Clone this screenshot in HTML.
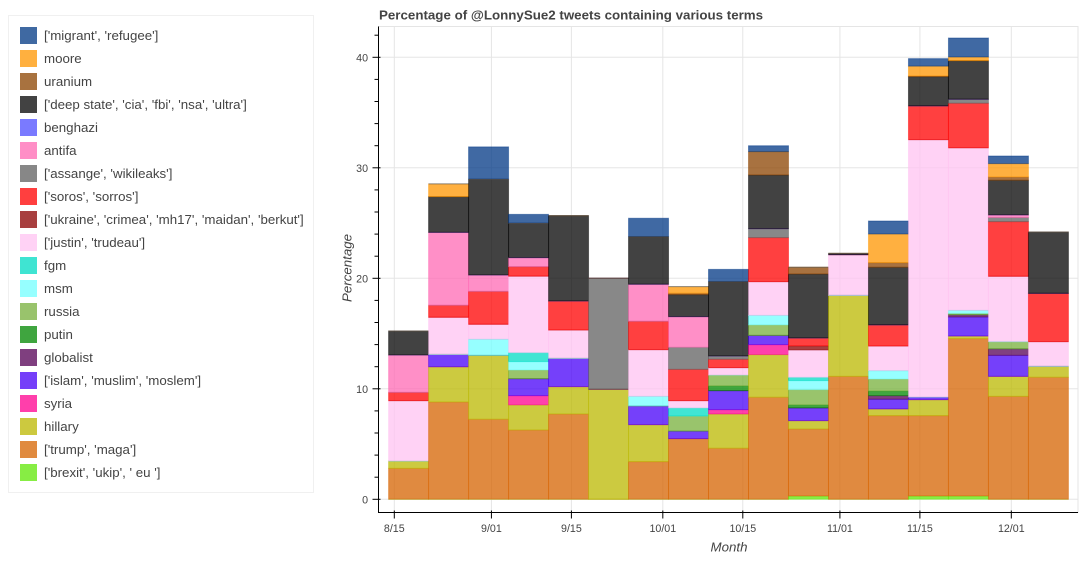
<!DOCTYPE html>
<html lang="en">
<head>
<meta charset="utf-8">
<title>Percentage of @LonnySue2 tweets containing various terms</title>
<style>
html,body{margin:0;padding:0;width:1083px;height:562px;background:#fff;overflow:hidden;font-family:"Liberation Sans",sans-serif;color:#444}
#legend{position:absolute;left:8px;top:15px;width:304px;height:476px;border:1px solid #f0f0f0;box-sizing:content-box}
.row{position:absolute;left:11px;height:17px;white-space:nowrap;font-size:13.3px;line-height:17px}
.sw{position:absolute;left:0;top:0;width:17px;height:17px;opacity:.75;box-sizing:border-box;border:1px solid}
.lb{position:absolute;left:24px;top:0}
#chart{position:absolute;left:0;top:0}
</style>
</head>
<body>
<div id="legend">
<div class="row" style="top:11px"><span class="sw" style="background:#003784;border-color:#003784"></span><span class="lb">['migrant', 'refugee']</span></div>
<div class="row" style="top:34px"><span class="sw" style="background:#ff9600;border-color:#ff9600"></span><span class="lb">moore</span></div>
<div class="row" style="top:57px"><span class="sw" style="background:#8b4300;border-color:#8b4300"></span><span class="lb">uranium</span></div>
<div class="row" style="top:80px"><span class="sw" style="background:#030303;border-color:#030303"></span><span class="lb">['deep state', 'cia', 'fbi', 'nsa', 'ultra']</span></div>
<div class="row" style="top:103px"><span class="sw" style="background:#4e4eff;border-color:#4e4eff"></span><span class="lb">benghazi</span></div>
<div class="row" style="top:126px"><span class="sw" style="background:#ff69b4;border-color:#ff69b4"></span><span class="lb">antifa</span></div>
<div class="row" style="top:149px"><span class="sw" style="background:#606060;border-color:#606060"></span><span class="lb">['assange', 'wikileaks']</span></div>
<div class="row" style="top:172px"><span class="sw" style="background:#ff0000;border-color:#ff0000"></span><span class="lb">['soros', 'sorros']</span></div>
<div class="row" style="top:195px"><span class="sw" style="background:#8b0000;border-color:#8b0000"></span><span class="lb">['ukraine', 'crimea', 'mh17', 'maidan', 'berkut']</span></div>
<div class="row" style="top:218px"><span class="sw" style="background:#ffc3f2;border-color:#ffc3f2"></span><span class="lb">['justin', 'trudeau']</span></div>
<div class="row" style="top:241px"><span class="sw" style="background:#00dcc4;border-color:#00dcc4"></span><span class="lb">fgm</span></div>
<div class="row" style="top:264px"><span class="sw" style="background:#73ffff;border-color:#73ffff"></span><span class="lb">msm</span></div>
<div class="row" style="top:287px"><span class="sw" style="background:#77b03b;border-color:#77b03b"></span><span class="lb">russia</span></div>
<div class="row" style="top:310px"><span class="sw" style="background:#008800;border-color:#008800"></span><span class="lb">putin</span></div>
<div class="row" style="top:333px"><span class="sw" style="background:#550055;border-color:#550055"></span><span class="lb">globalist</span></div>
<div class="row" style="top:356px"><span class="sw" style="background:#4700f8;border-color:#4700f8"></span><span class="lb">['islam', 'muslim', 'moslem']</span></div>
<div class="row" style="top:379px"><span class="sw" style="background:#ff0090;border-color:#ff0090"></span><span class="lb">syria</span></div>
<div class="row" style="top:402px"><span class="sw" style="background:#bbb800;border-color:#bbb800"></span><span class="lb">hillary</span></div>
<div class="row" style="top:425px"><span class="sw" style="background:#d66300;border-color:#d66300"></span><span class="lb">['trump', 'maga']</span></div>
<div class="row" style="top:448px"><span class="sw" style="background:#60e806;border-color:#60e806"></span><span class="lb">['brexit', 'ukip', ' eu ']</span></div>
</div>

<svg id="chart" width="1083" height="562" viewBox="0 0 1083 562" xmlns="http://www.w3.org/2000/svg">
  <text x="379" y="19.5" font-family="'Liberation Sans',sans-serif" font-size="13.33px" font-weight="700" fill="#444">Percentage of @LonnySue2 tweets containing various terms</text>
  <text x="729" y="551.5" text-anchor="middle" font-family="'Liberation Sans',sans-serif" font-size="13.3px" font-style="italic" fill="#444">Month</text>
  <text transform="translate(351.5,268) rotate(-90)" text-anchor="middle" font-family="'Liberation Sans',sans-serif" font-size="13.3px" font-style="italic" fill="#444">Percentage</text>
  <g id="grid"></g>
  <g id="bars"></g>
  <g id="axes"></g>
</svg>

<script>
// Week-start dates, one per stacked bar
const weeks = ['2017-08-14','2017-08-21','2017-08-28','2017-09-04','2017-09-11','2017-09-18','2017-09-25','2017-10-02','2017-10-09','2017-10-16','2017-10-23','2017-10-30','2017-11-06','2017-11-13','2017-11-20','2017-11-27','2017-12-04'];

// Percent of tweets per week, per term
const brexit   = [0,0,0,0,0,0,0,0,0,0,.3,0,0,.3,.3,0,0];
const trump    = [2.8,8.81,7.24,6.27,7.72,0,3.41,5.49,4.62,9.23,6.06,11.13,7.57,7.27,14.24,9.32,11.04];
const hillary  = [.67,3.19,5.79,2.27,2.48,9.95,3.35,0,3.1,3.86,.76,7.33,.61,1.45,.24,1.81,1];
const syria    = [0,0,0,.84,0,0,0,0,.39,.91,0,0,0,0,0,0,0];
const islam    = [0,1.12,0,1.54,2.56,0,1.69,.69,1.72,.84,1.15,0,.87,.24,1.72,1.9,0];
const globalist= [0,0,0,0,0,0,0,0,0,0,0,0,.33,0,.21,.6,0];
const putin    = [0,0,0,0,0,0,0,0,.43,0,.27,0,.42,0,0,0,0];
const russia   = [0,0,0,.78,0,0,0,1.36,.99,.94,1.38,0,1.09,0,.12,.64,0];
const msm      = [0,0,1.45,.76,0,0,.87,0,0,.87,.82,0,.75,0,.27,0,0];
const fgm      = [0,0,0,.81,0,0,0,.73,0,0,.3,0,0,0,0,0,0];
const justin   = [5.46,3.35,1.36,6.93,2.56,0,4.22,.66,.67,3.05,2.47,3.68,2.23,23.29,14.72,5.91,2.23];
const ukraine  = [0,0,0,0,0,0,0,0,0,0,.37,0,0,0,0,0,0];
const soros    = [.75,1.09,2.98,.86,2.63,0,2.57,2.83,.75,3.98,.72,0,1.91,3.05,4.02,4.95,4.37];
const assange  = [0,0,0,0,0,10.05,0,2,.3,.81,0,0,0,0,.36,.37,0];
const antifa   = [3.38,6.6,1.48,.81,0,0,3.35,2.77,0,0,0,0,0,0,0,.24,0];
const benghazi = [0,0,0,0,0,0,0,0,0,0,0,0,0,0,0,0,0];
const deep     = [2.17,3.23,8.66,3.11,7.72,0,4.31,1.99,6.73,4.86,5.79,.12,5.22,2.65,3.5,3.13,5.55];
const uranium  = [0,0,0,0,0,0,0,.13,0,2.11,.61,0,.42,.06,0,.3,0];
const moore    = [0,1.15,0,0,0,0,0,.6,0,0,0,0,2.59,.89,.33,1.21,0];
const migrant  = [0,0,2.93,.81,0,0,1.66,0,1.11,.54,0,0,1.18,.68,1.72,.69,0];

// Axis ticks
const xTickDates  = ['2017-08-15','2017-09-01','2017-09-15','2017-10-01','2017-10-15','2017-11-01','2017-11-15','2017-12-01'];
const xTickLabels = ['8/15','9/01','9/15','10/01','10/15','11/01','11/15','12/01'];
const yTicks      = [0,10,20,30,40];
const yMinorTicks = [2,4,6,8,12,14,16,18,22,24,26,28,32,34,36,38,42];

const series = [
  {key:'brexit',   values:brexit,   color:'#60e806'},
  {key:'trump',    values:trump,    color:'#d66300'},
  {key:'hillary',  values:hillary,  color:'#bbb800'},
  {key:'syria',    values:syria,    color:'#ff0090'},
  {key:'islam',    values:islam,    color:'#4700f8'},
  {key:'globalist',values:globalist,color:'#550055'},
  {key:'putin',    values:putin,    color:'#008800'},
  {key:'russia',   values:russia,   color:'#77b03b'},
  {key:'msm',      values:msm,      color:'#73ffff'},
  {key:'fgm',      values:fgm,      color:'#00dcc4'},
  {key:'justin',   values:justin,   color:'#ffc3f2'},
  {key:'ukraine',  values:ukraine,  color:'#8b0000'},
  {key:'soros',    values:soros,    color:'#ff0000'},
  {key:'assange',  values:assange,  color:'#606060'},
  {key:'antifa',   values:antifa,   color:'#ff69b4'},
  {key:'benghazi', values:benghazi, color:'#4e4eff'},
  {key:'deep-state',values:deep,    color:'#030303'},
  {key:'uranium',  values:uranium,  color:'#8b4300'},
  {key:'moore',    values:moore,    color:'#ff9600'},
  {key:'migrant',  values:migrant,  color:'#003784'}
];

const NS = 'http://www.w3.org/2000/svg';
const DAY = 86400000;
const X0 = Date.parse('2017-08-15');
const plot = {left:378.5, right:1078, top:26.5, bottom:512.5};

function xScale(dateStr){ return 394.3 + (Date.parse(dateStr) - X0) / DAY * 5.713; }
function yScale(v){ return 499.3 - 11.05 * v; }
function weekEnd(dateStr){ return new Date(Date.parse(dateStr) + 7 * DAY).toISOString().slice(0,10); }

function mk(tag, attrs, parent){
  const el = document.createElementNS(NS, tag);
  for (const k in attrs) el.setAttribute(k, attrs[k]);
  parent.appendChild(el);
  return el;
}

const gridG = document.getElementById('grid');
const barsG = document.getElementById('bars');
const axesG = document.getElementById('axes');

// Plot outline
const outline = mk('rect', {x:plot.left, y:plot.top, width:plot.right-plot.left, height:plot.bottom-plot.top, fill:'none', stroke:'#e5e5e5'}, gridG);



// Gridlines
xTickDates.forEach(function(d){
  const x = xScale(d);
  const g = mk('line', {x1:x, x2:x, y1:plot.top, y2:plot.bottom, stroke:'#e5e5e5'}, gridG);
  
  
});
yTicks.forEach(function(v){
  const y = yScale(v);
  const g = mk('line', {x1:plot.left, x2:plot.right, y1:y, y2:y, stroke:'#e5e5e5'}, gridG);
  
  
});

// Stacked bars
weeks.forEach(function(w, i){
  let base = 0;
  const x1 = xScale(w), x2 = xScale(weekEnd(w));
  series.forEach(function(s){
    const top = base + s.values[i];
    const y1 = yScale(base), y2 = yScale(top);
    const seg = mk('path', {
      d:'M'+x1+' '+y1+'H'+x2+'V'+y2+'H'+x1+'Z',
      fill:s.color, 'fill-opacity':.75, stroke:s.color, 'stroke-opacity':.45, 'stroke-width':1
    }, barsG);
    
    
    base = top;
  });
});

// Axes
const yLine = mk('line', {x1:plot.left, x2:plot.left, y1:plot.top, y2:plot.bottom+.5, stroke:'#000'}, axesG);


const xLine = mk('line', {x1:plot.left, x2:plot.right, y1:plot.bottom, y2:plot.bottom, stroke:'#000'}, axesG);



xTickDates.forEach(function(d, i){
  const x = xScale(d);
  const t = mk('line', {x1:x, x2:x, y1:plot.bottom-2, y2:plot.bottom+6, stroke:'#000'}, axesG);
  
  
  const l = mk('text', {x:x, y:532, 'text-anchor':'middle', 'font-size':'10.67px', 'font-family':"'Liberation Sans',sans-serif", fill:'#444'}, axesG);
  l.textContent = xTickLabels[i];
  
  
});

yTicks.forEach(function(v){
  const y = yScale(v);
  const t = mk('line', {x1:plot.left-6, x2:plot.left+2, y1:y, y2:y, stroke:'#000'}, axesG);
  
  
  const l = mk('text', {x:368, y:y+4, 'text-anchor':'end', 'font-size':'10.67px', 'font-family':"'Liberation Sans',sans-serif", fill:'#444'}, axesG);
  l.textContent = String(v);
  
  
});

yMinorTicks.forEach(function(v){
  const y = yScale(v);
  const t = mk('line', {x1:plot.left-4, x2:plot.left, y1:y, y2:y, stroke:'#000'}, axesG);
  
  
});
</script>
</body>
</html>
